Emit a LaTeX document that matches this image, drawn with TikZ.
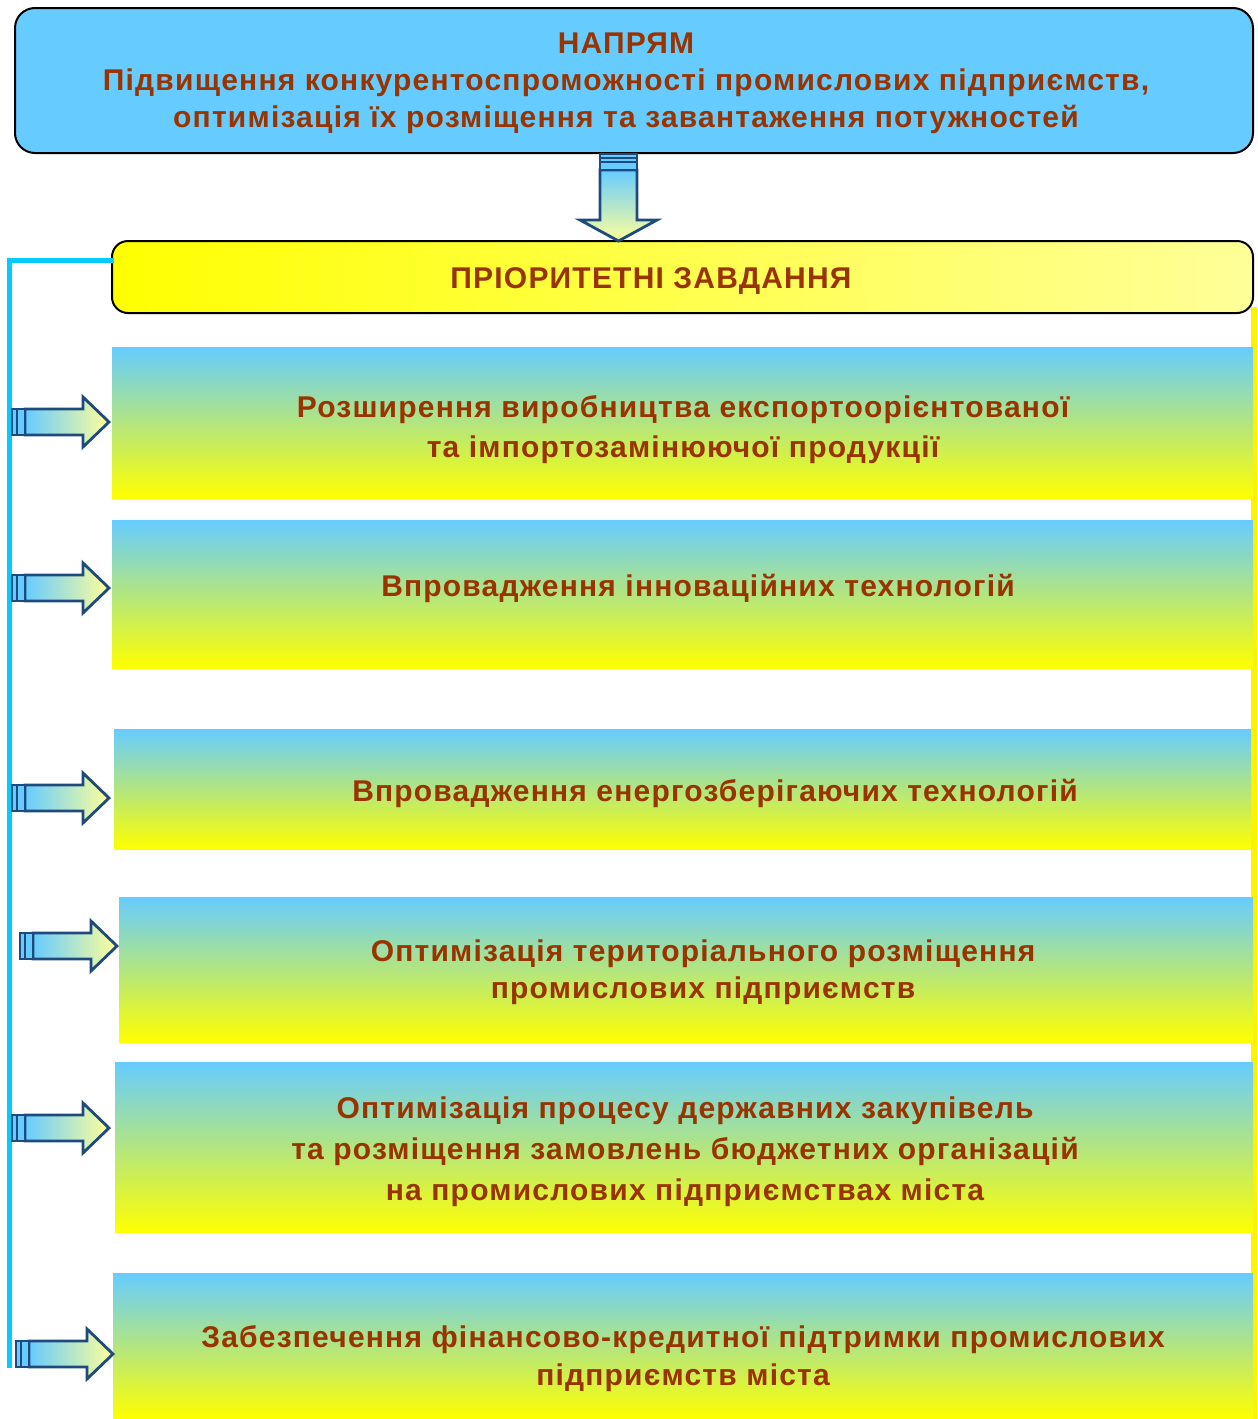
\documentclass[tikz,border=0pt]{standalone}
\usepackage{fontspec}
\setmainfont{Liberation Sans}[LetterSpace=4]
\usetikzlibrary{calc}

\definecolor{skyfill}{HTML}{66CCFF}
\definecolor{brownink}{HTML}{993300}
\definecolor{linecyan}{HTML}{00CCFF}
\definecolor{arrowedge}{HTML}{1F4A7E}
\definecolor{paleyellow}{HTML}{FFFF99}
\definecolor{midtone}{HTML}{D2E8AA}

\tikzset{
  boxtext/.style={text=brownink, font=\fontsize{15}{20}\selectfont\bfseries, align=center, inner sep=0pt},
  taskbox/.style={rectangle, inner sep=0pt, outer sep=0pt, top color=skyfill, middle color=midtone, bottom color=yellow},
  pics/rightarrow/.style={code={
    \shade[left color=skyfill, right color=paleyellow, draw=arrowedge, line width=1.4pt, line join=miter]
      (13,-13) -- (71,-13) -- (71,-25) -- (97,0) -- (71,25) -- (71,13) -- (13,13) -- cycle;
    \filldraw[fill=skyfill, draw=arrowedge, line width=1.2pt] (0,-13) rectangle (5,13) (5,-13) rectangle (13,13);
  }},
  pics/downarrow/.style={code={
    \shade[top color=skyfill, bottom color=paleyellow, draw=arrowedge, line width=1.4pt, line join=miter]
      (-18.5,16) -- (-18.5,66) -- (-38.5,66) -- (0,87) -- (38.5,66) -- (18.5,66) -- (18.5,16) -- cycle;
    \filldraw[fill=skyfill, draw=arrowedge, line width=1.2pt] (-18.5,0) rectangle (18.5,4) (-18.5,4) rectangle (18.5,8) (-18.5,8) rectangle (18.5,16);
  }}
}

\begin{document}
\begin{tikzpicture}[x=0.5pt, y=-0.5pt]
    \useasboundingbox (0,0) rectangle (1258,1419);

    % side lines
    \draw[yellow, line width=3pt] (1254,307) -- (1254,1419);

    % heading
    \node[rectangle, rounded corners=10pt, fill=skyfill, draw=black, line width=1pt, minimum width=619pt, minimum height=72.5pt] (top) at (634,80.5) {};
    \node[boxtext, font=\fontsize{15}{18.5}\selectfont\bfseries] (toptext) at (626,83) {НАПРЯМ\\Підвищення конкурентоспроможності промислових підприємств,\\оптимізація їх розміщення та завантаження потужностей};

    \node[rectangle, rounded corners=8pt, left color=yellow, right color=paleyellow, draw=black, line width=1pt, minimum width=570.5pt, minimum height=36pt] (prio) at (682.5,277) {};
    \node[boxtext] (priotext) at (651,281) {ПРІОРИТЕТНІ ЗАВДАННЯ};

    \pic at ($(top.south)+(-15.5,0)$) {downarrow};

    % tasks
    \node[taskbox, minimum width=570.5pt, minimum height=75.5pt] (b1) at (682.5,422.5) {};
    \node[taskbox, minimum width=570.5pt, minimum height=74pt] (b2) at (682.5,594) {};
    \node[taskbox, minimum width=568.5pt, minimum height=60pt] (b3) at (682.5,789) {};
    \node[taskbox, minimum width=567pt, minimum height=72.5pt] (b4) at (686,969.5) {};
    \node[taskbox, minimum width=569pt, minimum height=85pt] (b5) at (684,1147) {};
    \node[taskbox, minimum width=570pt, minimum height=73pt] (b6) at (683,1346) {};

    \node[boxtext] (t1) at (683,430) {Розширення виробництва експортоорієнтованої\\та імпортозамінюючої продукції};
    \node[boxtext] (t2) at (698,588) {Впровадження інноваційних технологій};
    \node[boxtext] (t3) at (715,793) {Впровадження енергозберігаючих технологій};
    \node[boxtext, font=\fontsize{15}{18.5}\selectfont\bfseries] (t4) at (703,972) {Оптимізація територіального розміщення\\промислових підприємств};
    \node[boxtext, font=\fontsize{15}{20.5}\selectfont\bfseries] (t5) at (685,1152) {Оптимізація процесу державних закупівель\\та розміщення замовлень бюджетних організацій\\на промислових підприємствах міста};
    \node[boxtext, font=\fontsize{15}{19}\selectfont\bfseries] (t6) at (683,1359) {Забезпечення фінансово-кредитної підтримки промислових\\підприємств міста};

    % left bracket line
    \coordinate (corner) at (9.5,260);
    \coordinate (bottomend) at (9.5,1368);
    \draw[linecyan, line width=2.5pt] ($(prio.west)+(3,-17)$) -- (corner) -- (bottomend);

    \pic at (12,422) {rightarrow};
    \pic at (12,588) {rightarrow};
    \pic at (12,798) {rightarrow};
    \pic at (20,946) {rightarrow};
    \pic at (12,1128) {rightarrow};
    \pic at (16,1354) {rightarrow};
\end{tikzpicture}
\end{document}
